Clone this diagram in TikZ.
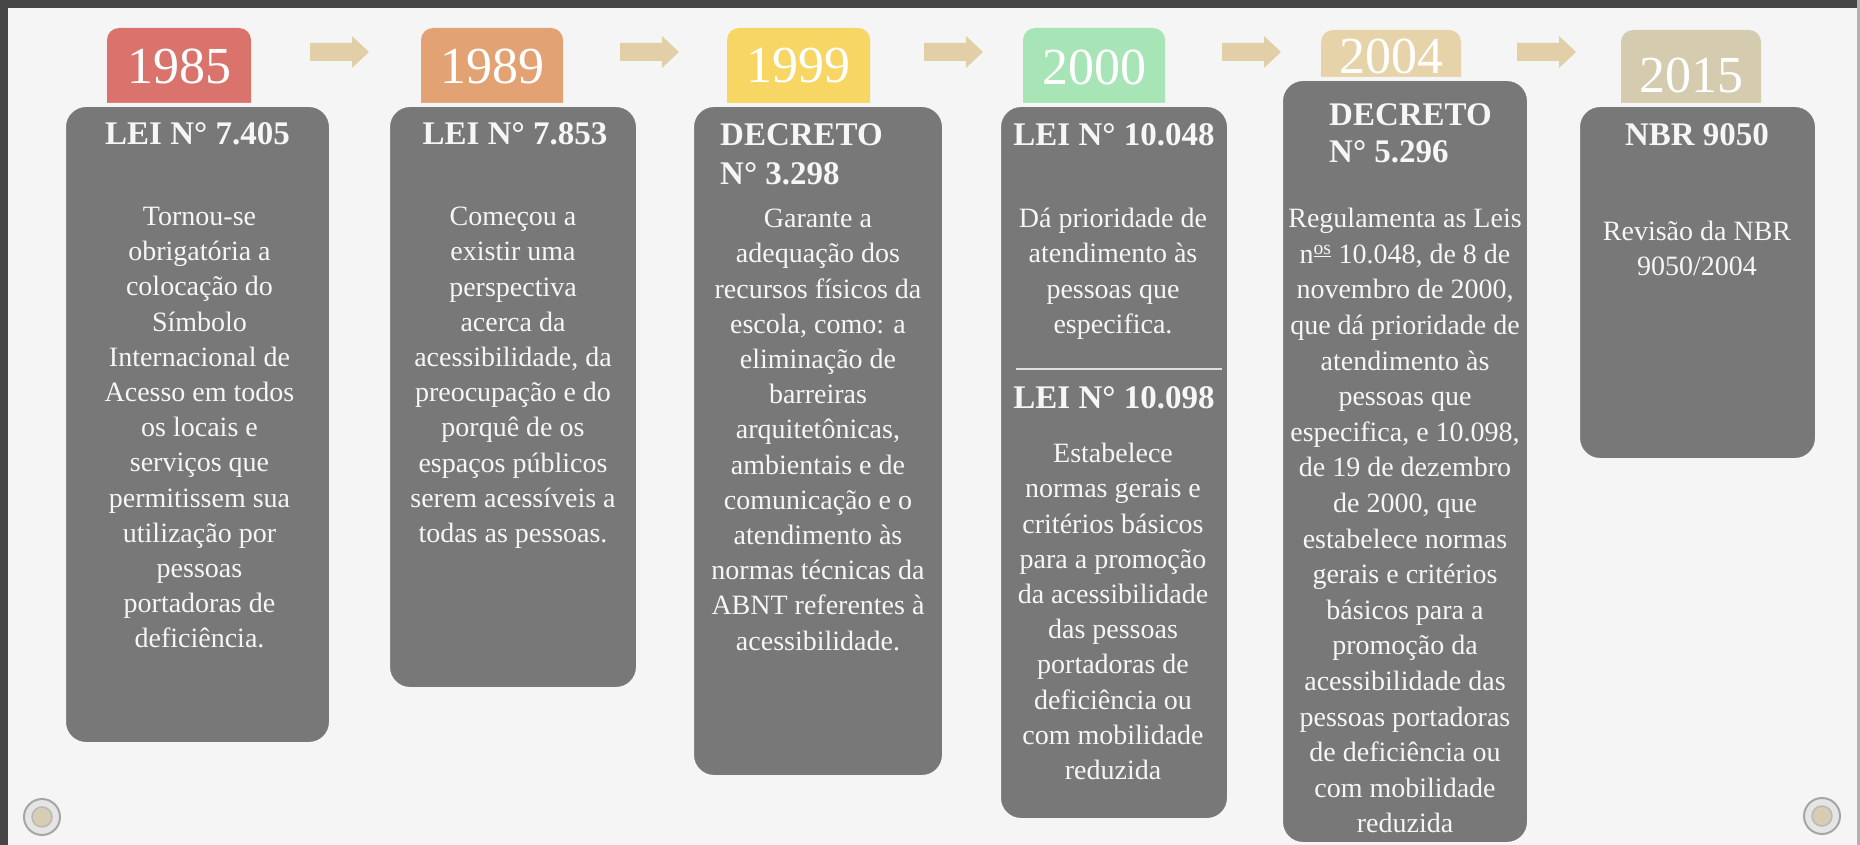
\documentclass[tikz,border=0pt]{standalone}
\usepackage{fontspec}
\setmainfont{Liberation Serif}
\usepackage{tikz}
\definecolor{paper}{HTML}{F5F5F5}
\definecolor{frame}{HTML}{464646}
\definecolor{panelgray}{HTML}{787878}
\definecolor{paneltext}{HTML}{F6F6F6}
\definecolor{arrowtan}{HTML}{E2CFA7}
\definecolor{c85}{HTML}{D9736C}
\definecolor{c89}{HTML}{E3A273}
\definecolor{c99}{HTML}{F7D663}
\definecolor{c00}{HTML}{A7E5B6}
\definecolor{c04}{HTML}{E7D3A9}
\definecolor{c15}{HTML}{D5CCAF}
\definecolor{screwcore}{HTML}{D8CDB2}

\begin{document}
\begin{tikzpicture}[x=1pt,y=-1pt,
  panel/.style={fill=panelgray,draw=paper,line width=4pt,rounded corners=22pt,inner sep=0pt},
  tab/.style={rounded corners=12pt,minimum height=92pt,inner sep=0pt},
  year/.style={text=white,font=\fontsize{52}{52}\selectfont,inner sep=0pt},
  head/.style={text=paneltext,font=\fontsize{33}{39}\selectfont\bfseries,inner sep=0pt},
  body/.style={text=paneltext,font=\fontsize{28}{35.2}\selectfont,align=center,inner sep=0pt,anchor=north}]
\useasboundingbox (0,0) rectangle (1860,845);
\fill[paper] (0,0) rectangle (1860,845);
\fill[frame] (0,0) rectangle (1860,8); % top edge
\fill[frame] (0,0) rectangle (8,845); % left edge
\fill[gray!60] (1857,0) rectangle (1860,845);

% year tabs
\node[tab,fill=c85,minimum width=144pt] (tab85) at (179,74) {};
\node[tab,fill=c89,minimum width=142pt] (tab89) at (492,74) {};
\node[tab,fill=c99,minimum width=143pt] (tab99) at (798.5,74) {};
\node[tab,fill=c00,minimum width=142pt] (tab00) at (1094,74) {};
\node[tab,fill=c04,minimum width=140pt] (tab04) at (1391,76) {};
\node[tab,fill=c15,minimum width=140pt] (tab15) at (1691,76) {};
\node[year] (yr85) at (179,66) {1985};
\node[year] (yr89) at (492,66) {1989};
\node[year] (yr99) at (798.5,66) {1999};
\node[year] (yr00) at (1094,67) {2000};
\node[year] (yr04) at (1391,56) {2004};
\node[year] (yr15) at (1691,75) {2015};

% arrows between the years
\foreach \x in {310,620,924,1222,1517}
  \fill[arrowtan] (\x,43) -- ++(42,0) -- ++(0,-7) -- ++(17,16) -- ++(-17,16) -- ++(0,-7) -- ++(-42,0) -- cycle;

% grey panels
\node[panel,minimum width=267pt,minimum height=639pt] (box85) at (197.5,424.5) {};
\node[panel,minimum width=250pt,minimum height=584pt] (box89) at (513,397) {};
\node[panel,minimum width=252pt,minimum height=672pt] (box99) at (818,441) {};
\node[panel,minimum width=230pt,minimum height=715pt] (box00) at (1114,462.5) {};
\node[panel,minimum width=248pt,minimum height=765pt] (box04) at (1405,461.5) {};
\node[panel,minimum width=239pt,minimum height=355pt] (box15) at (1697.5,282.5) {};

% headings
\node[head,anchor=base] (h85) at (197.5,145) {LEI N° 7.405};
\node[head,anchor=base] (h89) at (515,145) {LEI N° 7.853};
\node[head,anchor=north west,align=left] (h99) at (720,123) {DECRETO\\N° 3.298};
\node[head,anchor=base] (h00a) at (1114,146) {LEI N° 10.048};
\node[head,anchor=base] (h00b) at (1114,408) {LEI N° 10.098};
\node[head,anchor=north west,align=left,font=\fontsize{33}{37}\selectfont\bfseries] (h04) at (1329,103) {DECRETO\\N° 5.296};
\node[head,anchor=base] (h15) at (1697,146) {NBR 9050};

\coordinate (rulel) at (1016,369);
\coordinate (ruler) at (1222,369);
\draw[gray!25,line width=2pt] (rulel) -- (ruler);

% texts
\node[body] (t85) at (199.5,207) {Tornou-se\\obrigatória a\\colocação do\\Símbolo\\Internacional de\\Acesso em todos\\os locais e\\serviços que\\permitissem sua\\utilização por\\pessoas\\portadoras de\\deficiência.};
\node[body] (t89) at (513,207) {Começou a\\existir uma\\perspectiva\\acerca da\\acessibilidade, da\\preocupação e do\\porquê de os\\espaços públicos\\serem acessíveis a\\todas as pessoas.};
\node[body] (t99) at (818,209) {Garante a\\adequação dos\\recursos físicos da\\escola, como: a\\eliminação de\\barreiras\\arquitetônicas,\\ambientais e de\\comunicação e o\\atendimento às\\normas técnicas da\\ABNT referentes à\\acessibilidade.};
\node[body] (t00a) at (1113,208) {Dá prioridade de\\atendimento às\\pessoas que\\especifica.};
\node[body] (t00b) at (1113,443) {Estabelece\\normas gerais e\\critérios básicos\\para a promoção\\da acessibilidade\\das pessoas\\portadoras de\\deficiência ou\\com mobilidade\\reduzida};
\node[body,font=\fontsize{28}{35.6}\selectfont] (t04) at (1405,208) {Regulamenta as Leis\\n\textsuperscript{\underline{os}} 10.048, de 8 de\\novembro de 2000,\\que dá prioridade de\\atendimento às\\pessoas que\\especifica, e 10.098,\\de 19 de dezembro\\de 2000, que\\estabelece normas\\gerais e critérios\\básicos para a\\promoção da\\acessibilidade das\\pessoas portadoras\\de deficiência ou\\com mobilidade\\reduzida};
\node[body] (t15) at (1697,221) {Revisão da NBR\\9050/2004};

% screws
\filldraw[fill=gray!20,draw=gray!70,line width=2pt] (42,817) circle (18pt);
\filldraw[fill=screwcore,draw=gray!55,line width=1.5pt] (42,817) circle (10pt);
\filldraw[fill=gray!20,draw=gray!70,line width=2pt] (1822,816) circle (18pt);
\filldraw[fill=screwcore,draw=gray!55,line width=1.5pt] (1822,816) circle (10pt);
\end{tikzpicture}
\end{document}
